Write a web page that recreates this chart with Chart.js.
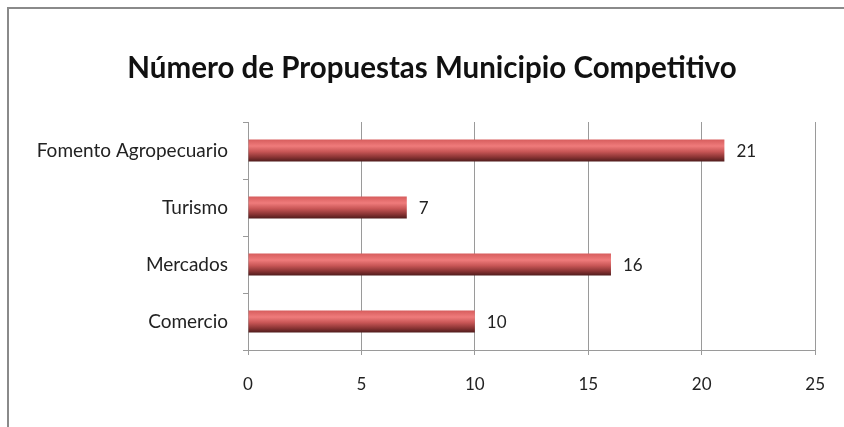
<!DOCTYPE html>
<html>
<head>
<meta charset="utf-8">
<script src="https://cdn.jsdelivr.net/npm/chart.js@4.4.0/dist/chart.umd.min.js"></script>
<style>
html,body{margin:0;padding:0;background:#fff;}
#wrap{width:844px;height:427px;position:relative;}
</style>
</head>
<body>
<div id="wrap"><canvas id="c" width="844" height="427"></canvas></div>
<script>
const categories = ["Fomento Agropecuario", "Turismo", "Mercados", "Comercio"];
const values = [21, 7, 16, 10];
const xTicks = [0, 5, 10, 15, 20, 25];
const titleText = "Número de Propuestas Municipio Competitivo";

const FONT = "Lato, 'Open Sans', sans-serif";

function barGradient(ctx) {
  const chart = ctx.chart;
  const y = chart.scales && chart.scales.y;
  if (!y || ctx.dataIndex === undefined || !chart.chartArea) return '#d06060';
  const c = y.getPixelForValue(ctx.dataIndex);
  const band = (y.bottom - y.top) / categories.length;
  const h = band * 0.39;
  const g = chart.ctx.createLinearGradient(0, c - h / 2, 0, c + h / 2);
  g.addColorStop(0, '#d65c5c');
  g.addColorStop(0.3, '#ef7b7b');
  g.addColorStop(0.55, '#c85656');
  g.addColorStop(0.8, '#8a3434');
  g.addColorStop(1, '#4e1b1b');
  return g;
}

const frame = {
  id: 'frame',
  beforeDraw(chart) {
    const c = chart.ctx;
    c.save();
    c.fillStyle = '#fff';
    c.fillRect(0, 0, chart.width, chart.height);
    c.strokeStyle = '#8a8a8a';
    c.lineWidth = 2;
    c.strokeRect(8, 8, chart.width + 20, chart.height + 20);
    c.restore();
  },
  afterDraw(chart) {
    const c = chart.ctx;
    c.save();
    c.font = "bold 29.5px " + FONT;
    c.fillStyle = '#111';
    c.textAlign = 'center';
    c.textBaseline = 'middle';
    c.fillText(titleText, 432, 68);
    c.restore();
  }
};

const valueLabels = {
  id: 'valueLabels',
  afterDatasetsDraw(chart) {
    const c = chart.ctx;
    const meta = chart.getDatasetMeta(0);
    c.save();
    c.font = "17px " + FONT;
    c.fillStyle = '#222';
    c.textAlign = 'left';
    c.textBaseline = 'middle';
    meta.data.forEach((el, i) => {
      c.fillText(String(values[i]), el.x + 12, el.y + 1);
    });
    c.restore();
  }
};

new Chart(document.getElementById('c'), {
  type: 'bar',
  data: {
    labels: categories,
    datasets: [{
      data: values,
      backgroundColor: barGradient,
      borderWidth: 0,
      categoryPercentage: 1,
      barPercentage: 0.39
    }]
  },
  options: {
    indexAxis: 'y',
    responsive: false,
    animation: false,
    devicePixelRatio: 1,
    layout: { padding: { left: 0, right: 25, top: 122, bottom: 0 } },
    plugins: {
      legend: { display: false },
      tooltip: { enabled: false },
      title: { display: false }
    },
    scales: {
      x: {
        min: 0, max: 25,
        afterBuildTicks(s) { s.ticks = xTicks.map(v => ({ value: v })); },
        afterFit(s) { s.height = 77; },
        grid: { color: '#9a9a9a', lineWidth: 1, tickLength: 5, drawOnChartArea: true },
        border: { color: '#9a9a9a', width: 1 },
        ticks: { color: '#222', font: { family: FONT, size: 17 }, padding: 19, maxRotation: 0 }
      },
      y: {
        afterFit(s) { s.width = 248; },
        grid: { color: '#9a9a9a', drawOnChartArea: false, tickLength: 5, offset: true },
        border: { color: '#9a9a9a', width: 1 },
        ticks: { color: '#222', font: { family: FONT, size: 19 }, padding: 15 }
      }
    }
  },
  plugins: [frame, valueLabels]
});
</script>
</body>
</html>
